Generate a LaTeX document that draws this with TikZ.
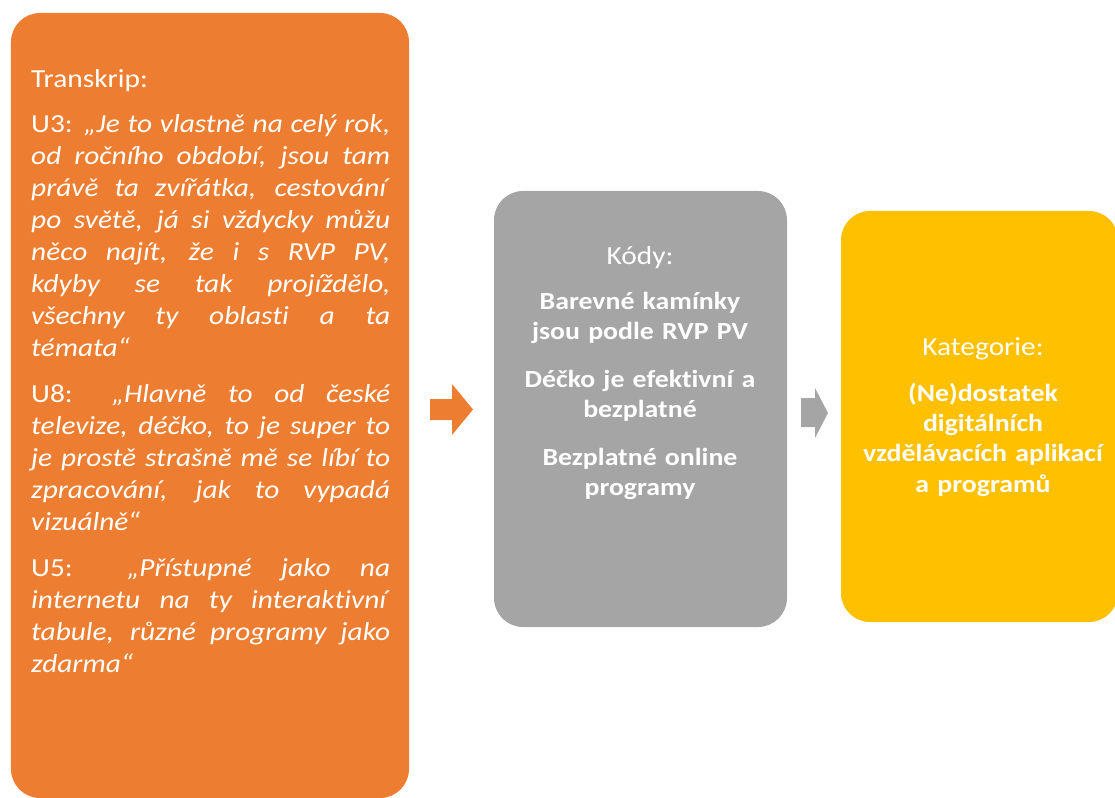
\documentclass[tikz,border=0pt]{standalone}
\usepackage{fontspec}
\setmainfont{Carlito}[FakeStretch=1.13, Ligatures=NoCommon]
\usetikzlibrary{positioning}

\definecolor{boxorange}{HTML}{ED7D31}
\definecolor{boxgray}{HTML}{A5A5A5}
\definecolor{boxyellow}{HTML}{FFC000}

% one justified line of the transcript, stretched to the full width
% (the font's own stretchable interword space is restored first)
\newcommand{\jline}[1]{{\spaceskip=0pt\xspaceskip=0pt\relax\makebox[359bp][s]{#1}}}

\tikzset{
  panel/.style={rounded corners=29bp, inner sep=0pt, draw=none},
  bodytext/.style={text=white, inner sep=0pt, font=\fontsize{26bp}{32bp}\selectfont},
  headtext/.style={text=white, inner sep=0pt, anchor=base, align=center, text width=300bp,
                   font=\fontsize{26bp}{31.7bp}\selectfont},
  boldtext/.style={text=white, inner sep=0pt, anchor=base, align=center, text width=300bp,
                   font=\fontsize{24.6bp}{30.4bp}\selectfont\bfseries},
}

\begin{document}
\begin{tikzpicture}[x=1bp, y=-1bp]
\useasboundingbox (0,0) rectangle (1115,798);

% the three rounded panels
\node[panel, fill=boxorange, minimum width=398bp, minimum height=785bp] (transcript) at (210,405.5) {};
\node[panel, fill=boxgray, minimum width=293bp, minimum height=436bp] (codes) at (640.5,409) {};
\node[panel, fill=boxyellow, minimum width=277bp, minimum height=411bp] (category) at (979.5,416.5) {};

% transcript
\node[bodytext, anchor=base west] (transhead) at (31,88) {Transkrip:};
\node[bodytext, anchor=base west, text width=359bp, align=left] (transbody) at (31,132) {%
\jline{U3: \textit{„Je to vlastně na celý rok,}}\\
\jline{\textit{od ročního období, jsou tam}}\\
\jline{\textit{právě ta zvířátka, cestování}}\\
\jline{\textit{po světě, já si vždycky můžu}}\\
\jline{\textit{něco najít, že i s RVP PV,}}\\
\jline{\textit{kdyby se tak projíždělo,}}\\
\jline{\textit{všechny ty oblasti a ta}}\\
\textit{témata“}\\[14bp]
\jline{U8: \textit{„Hlavně to od české}}\\
\jline{\textit{televize, déčko, to je super to}}\\
\jline{\textit{je prostě strašně mě se líbí to}}\\
\jline{\textit{zpracování, jak to vypadá}}\\
\textit{vizuálně“}\\[14bp]
\jline{U5: \textit{„Přístupné jako na}}\\
\jline{\textit{internetu na ty interaktivní}}\\
\jline{\textit{tabule, různé programy jako}}\\
\textit{zdarma“}};

% codes
\node[headtext] (codeshead) at (640,264) {Kódy:};
\node[boldtext] (codesbody) at (640,309.5) {Barevné kamínky\\jsou podle RVP PV\\[17bp]
Déčko je efektivní a\\bezplatné\\[17bp]Bezplatné online\\programy};

% category
\node[headtext] (cathead) at (983,355.5) {Kategorie:};
\node[boldtext] (catbody) at (983,401) {(Ne)dostatek\\digitálních\\vzdělávacích aplikací\\a programů};

% block arrows between the panels
\fill[boxorange] (430,399) -- (452,399) -- (452,384) -- (473,409.5) -- (452,435) -- (452,420) -- (430,420) -- cycle;
\fill[boxgray] (801,398) -- (815,398) -- (815,388) -- (828,413) -- (815,438) -- (815,427) -- (801,427) -- cycle;
\end{tikzpicture}
\end{document}
